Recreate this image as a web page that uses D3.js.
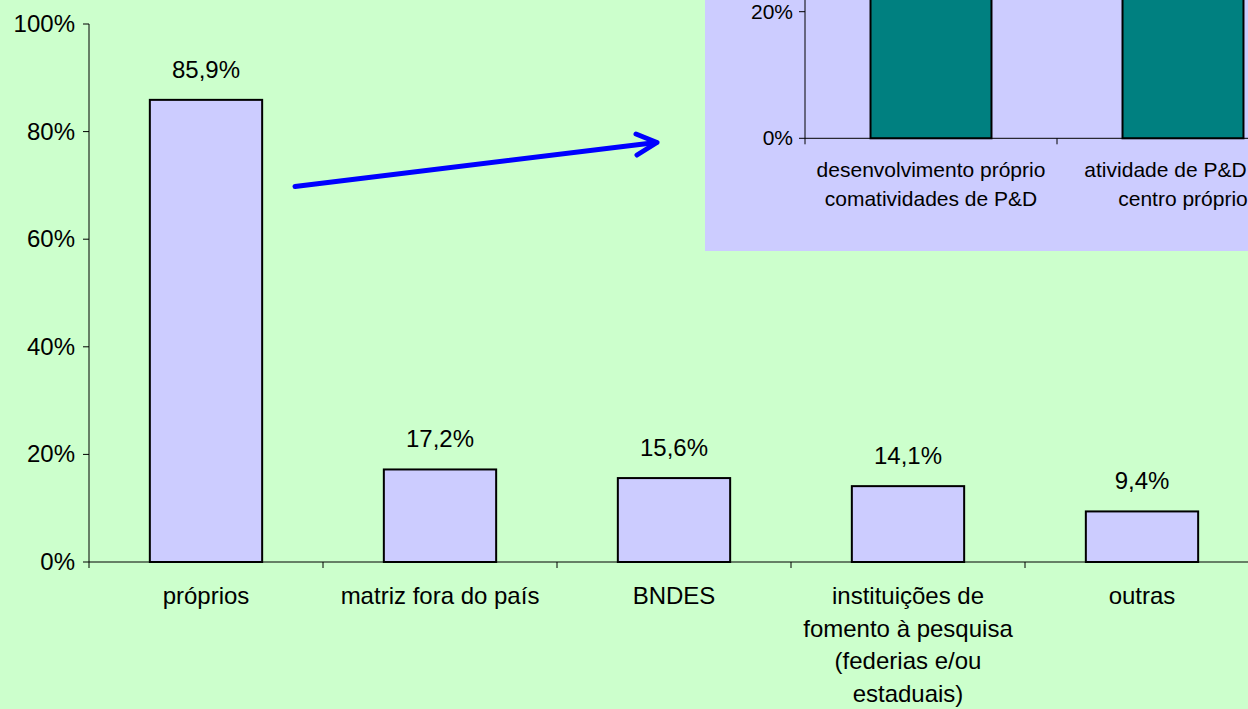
<html lang="pt">
<head>
<meta charset="UTF-8">
<title>Fontes de financiamento</title>
<script src="https://d3js.org/d3.v7.min.js"></script>
<style>
  body { margin: 0; background: #CCFFCC; }
  svg text { font-family: "Liberation Sans", Arial, sans-serif; fill: #000; }
</style>
</head>
<body>
<svg width="1248" height="709"></svg>
<script>
    // main chart data
    const categories = ["próprios", "matriz fora do país", "BNDES",
        "instituições de|fomento à pesquisa|(federias e/ou|estaduais)", "outras"];
    const values = [0.859, 0.172, 0.156, 0.141, 0.094];
    const valueLabels = ["85,9%", "17,2%", "15,6%", "14,1%", "9,4%"];
    const yTicks = [0, 0.2, 0.4, 0.6, 0.8, 1.0];

    // inset chart data (top is cut off in the picture)
    const insetCategories = ["desenvolvimento próprio|comatividades de P&D", "atividade de P&D em|centro próprio"];
    const insetValues = [0.625, 0.469];
    const insetTicks = [0, 0.2];

    const svg = d3.select("svg");
    svg.append("rect").attr("width", 1248).attr("height", 709).attr("fill", "#CCFFCC");

    // ---- main chart ----
    const x = d3.scaleBand().domain(categories).range([89, 1259]);
    const y = d3.scaleLinear().domain([0, 1]).range([562, 24]);
    const barW = x.bandwidth() * 0.48;

    const main = svg.append("g");

    main.selectAll("rect.bar").data(values).enter().append("rect")
        .attr("class", "bar")
        .attr("x", (d, i) => x(categories[i]) + (x.bandwidth() - barW) / 2)
        .attr("y", d => y(d))
        .attr("width", barW)
        .attr("height", d => y(0) - y(d))
        .attr("fill", "#CCCCFF")
        .attr("stroke", "#000")
        .attr("stroke-width", 2);

    main.selectAll("text.val").data(values).enter().append("text")
        .attr("class", "val")
        .attr("x", (d, i) => x(categories[i]) + x.bandwidth() / 2)
        .attr("y", d => y(d) - 22)
        .attr("text-anchor", "middle")
        .attr("font-size", 24)
        .text((d, i) => valueLabels[i]);

    // y axis
    main.append("line").attr("x1", 89).attr("x2", 89).attr("y1", y(1)).attr("y2", y(0))
        .attr("stroke", "#000").attr("stroke-width", 1);
    main.selectAll("line.ytick").data(yTicks).enter().append("line")
        .attr("x1", 83).attr("x2", 89)
        .attr("y1", d => y(d)).attr("y2", d => y(d))
        .attr("stroke", "#000");
    main.selectAll("text.ytick").data(yTicks).enter().append("text")
        .attr("x", 75).attr("y", d => y(d) + 8)
        .attr("text-anchor", "end")
        .attr("font-size", 24)
        .text(d3.format(".0%"));

    // x axis
    main.append("line").attr("x1", 89).attr("x2", 1259).attr("y1", y(0)).attr("y2", y(0))
        .attr("stroke", "#000");
    main.selectAll("line.xtick").data(categories.concat(["end"])).enter().append("line")
        .attr("x1", (d, i) => 89 + i * x.step()).attr("x2", (d, i) => 89 + i * x.step())
        .attr("y1", y(0)).attr("y2", y(0) + 6)
        .attr("stroke", "#000");
    categories.forEach(c => {
        const t = main.append("text")
            .attr("x", x(c) + x.bandwidth() / 2)
            .attr("y", 604)
            .attr("text-anchor", "middle")
            .attr("font-size", 24);
        c.split("|").forEach((line, k) => {
            t.append("tspan").attr("x", x(c) + x.bandwidth() / 2)
                .attr("dy", k === 0 ? 0 : 32.5).text(line);
        });
    });

    // ---- inset chart ----
    const inset = svg.append("g");
    inset.append("clipPath").attr("id", "insetClip")
        .append("rect").attr("x", 705).attr("y", -10).attr("width", 600).attr("height", 261);
    const ig = inset.append("g").attr("clip-path", "url(#insetClip)");
    ig.append("rect").attr("x", 705).attr("y", -10).attr("width", 600).attr("height", 261)
        .attr("fill", "#CCCCFF");

    const ix = d3.scaleBand().domain(insetCategories).range([805, 1309]);
    const iy = d3.scaleLinear().domain([0, 0.2]).range([138.3, 11.7]);
    const ibarW = ix.bandwidth() * 0.48;

    ig.selectAll("rect.ibar").data(insetValues).enter().append("rect")
        .attr("x", (d, i) => ix(insetCategories[i]) + (ix.bandwidth() - ibarW) / 2)
        .attr("y", d => iy(d))
        .attr("width", ibarW)
        .attr("height", d => iy(0) - iy(d))
        .attr("fill", "#008080")
        .attr("stroke", "#000")
        .attr("stroke-width", 2);

    ig.append("line").attr("x1", 805).attr("x2", 805).attr("y1", -10).attr("y2", iy(0))
        .attr("stroke", "#000");
    ig.append("line").attr("x1", 805).attr("x2", 1309).attr("y1", iy(0)).attr("y2", iy(0))
        .attr("stroke", "#000");
    ig.selectAll("line.itick").data(insetTicks).enter().append("line")
        .attr("x1", 799).attr("x2", 805)
        .attr("y1", d => iy(d)).attr("y2", d => iy(d))
        .attr("stroke", "#000");
    ig.selectAll("line.ixtick").data([0, 1, 2]).enter().append("line")
        .attr("x1", d => 805 + d * ix.step()).attr("x2", d => 805 + d * ix.step())
        .attr("y1", iy(0)).attr("y2", iy(0) + 6)
        .attr("stroke", "#000");
    ig.selectAll("text.itick").data(insetTicks).enter().append("text")
        .attr("x", 793).attr("y", d => iy(d) + 7)
        .attr("text-anchor", "end")
        .attr("font-size", 21)
        .text(d3.format(".0%"));
    insetCategories.forEach(c => {
        const t = ig.append("text")
            .attr("x", ix(c) + ix.bandwidth() / 2)
            .attr("y", 177)
            .attr("text-anchor", "middle")
            .attr("font-size", 21);
        c.split("|").forEach((line, k) => {
            t.append("tspan").attr("x", ix(c) + ix.bandwidth() / 2)
                .attr("dy", k === 0 ? 0 : 28.5).text(line);
        });
    });

    // ---- arrow ----
    const arrow = svg.append("g")
        .attr("stroke", "#0000FF").attr("stroke-width", 5)
        .attr("stroke-linecap", "round").attr("stroke-linejoin", "round").attr("fill", "none");
    arrow.append("line").attr("x1", 295).attr("y1", 186.5).attr("x2", 656).attr("y2", 142.5);
    arrow.append("path").attr("d", "M636,134 L657,142.5 L637,155");
</script>
</body>
</html>
